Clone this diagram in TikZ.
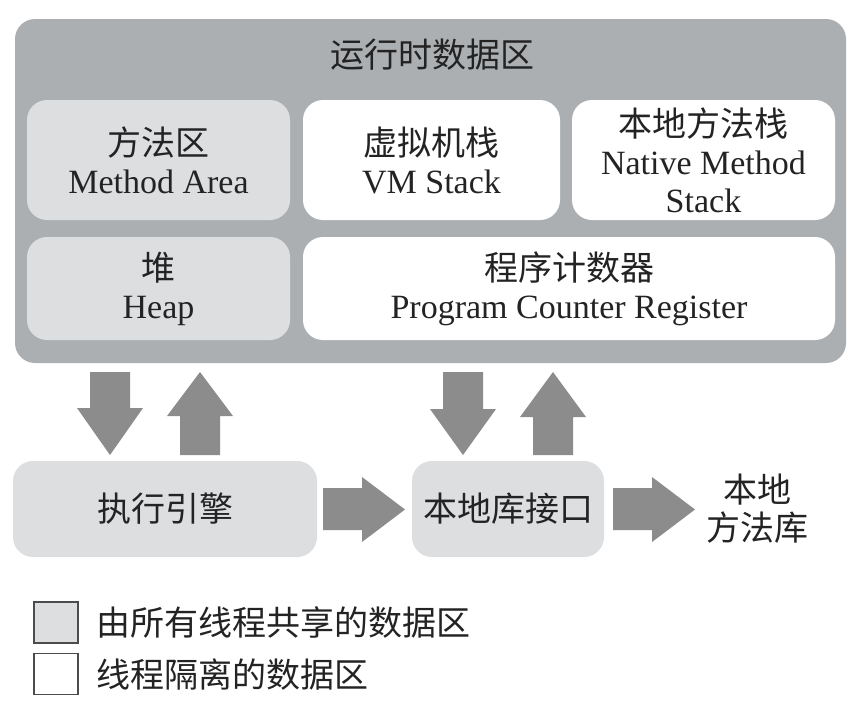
\documentclass[tikz,border=0pt]{standalone}
\usepackage{fontspec}
\setmainfont{Liberation Serif}
\newfontfamily\cjk{Noto Sans CJK SC}
\definecolor{outergray}{RGB}{172,175,177}
\definecolor{lightgray}{RGB}{220,222,224}
\definecolor{arrowgray}{RGB}{140,140,140}
\definecolor{textdark}{RGB}{35,35,35}
\begin{document}
\begin{tikzpicture}[x=1pt,y=-1pt,
  every node/.style={text=textdark, font=\fontsize{34}{38}\selectfont, align=center, inner sep=0pt},
  outerbox/.style={fill=outergray, rounded corners=20pt},
  sharedbox/.style={fill=lightgray, rounded corners=20pt},
  ownbox/.style={fill=white, rounded corners=20pt},
  blockarrow/.style={fill=arrowgray, draw=none},
  legendbox/.style={draw=black!70, line width=1.2pt, minimum width=44pt, minimum height=41pt},
  legendtext/.style={font=\fontsize{34}{40}\selectfont\cjk, anchor=west}
]
\useasboundingbox (0,0) rectangle (863,713);
\fill[white] (0,0) rectangle (863,713);

% runtime data area
\node[outerbox, minimum width=831pt, minimum height=344pt] (rt) at (430.5,191) {};
\node (title) at (432,55) {\cjk 运行时数据区};

\node[sharedbox, minimum width=263pt, minimum height=120pt] (ma) at (158.5,160) {{\cjk 方法区}\\Method Area};
\node[ownbox, minimum width=257pt, minimum height=120pt] (vm) at (431.5,160) {{\cjk 虚拟机栈}\\VM Stack};
\node[ownbox, minimum width=263pt, minimum height=120pt] (nm) at (703.5,160) {{\cjk 本地方法栈}\\Native Method\\Stack};
\node[sharedbox, minimum width=263pt, minimum height=103pt] (heap) at (158.5,288.5) {{\cjk 堆}\\Heap};
\node[ownbox, minimum width=532pt, minimum height=103pt] (pc) at (569,288.5) {{\cjk 程序计数器}\\Program Counter Register};

% bottom row
\node[sharedbox, minimum width=304pt, minimum height=96pt] (ee) at (165,509) {\cjk 执行引擎};
\node[sharedbox, minimum width=192pt, minimum height=96pt] (nli) at (508,509) {\cjk 本地库接口};
\node (nml) at (757,508.5) {\cjk 本地\\\cjk 方法库};

% block arrows
\fill[blockarrow] (90,372) -- (130,372) -- (130,408) -- (143,408) -- (110,455) -- (77,408) -- (90,408) -- cycle;
\fill[blockarrow] (180,455) -- (220,455) -- (220,416) -- (233,416) -- (200,372) -- (167,416) -- (180,416) -- cycle;
\fill[blockarrow] (443,372) -- (483,372) -- (483,409) -- (496,409) -- (463,455) -- (430,409) -- (443,409) -- cycle;
\fill[blockarrow] (533,455) -- (573,455) -- (573,417) -- (586,417) -- (553,372) -- (520,417) -- (533,417) -- cycle;
\fill[blockarrow] (323,488) -- (362,488) -- (362,477) -- (405,509.5) -- (362,542) -- (362,530) -- (323,530) -- cycle;
\fill[blockarrow] (613,488) -- (652,488) -- (652,477) -- (695,509.5) -- (652,542) -- (652,530) -- (613,530) -- cycle;

% legend
\node[legendbox, fill=lightgray] (lg1) at (56,622.5) {};
\node[legendbox, fill=white] (lg2) at (56,674) {};
\node[legendtext] (lt1) at (96,623) {由所有线程共享的数据区};
\node[legendtext] (lt2) at (96,675) {线程隔离的数据区};
\end{tikzpicture}
\end{document}
